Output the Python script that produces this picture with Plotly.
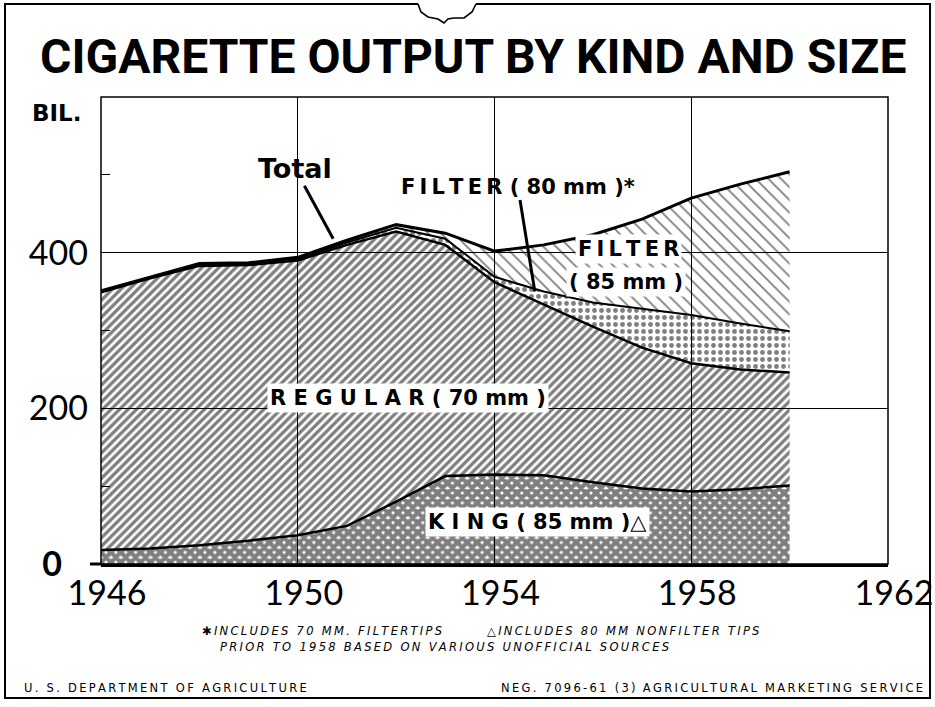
import plotly.graph_objects as go

# ---- data (billions of cigarettes) ----
years = list(range(1946, 1961))
king = [18, 20, 24, 30, 37, 49, 80, 113, 115, 114, 105, 97, 93, 96, 101]
regular = [331, 347, 359, 354, 353, 361, 347, 297, 247, 219, 200, 181, 165, 154, 145]
filter80 = [1, 1, 1, 1, 2, 3, 5, 8, 7, 17, 31, 50, 62, 59, 53]
filter85 = [1, 1, 2, 2, 2, 3, 4, 7, 33, 60, 87, 115, 150, 179, 205]

x_tickvals = [1946, 1950, 1954, 1958, 1962]
x_ticktext = ["1946", "1950", "1954", "1958", "1962"]
y_tickvals = [0, 200, 400]
y_ticktext = ["<b>0</b>\u00a0\u00a0\u00a0", "200", "400"]

# ---- geometry helpers (page pixels -> paper) ----
W, H = 935, 707
L, R, T, B = 101, 888, 97, 564


def px(x):
    return (x - L) / (R - L)


def py(y):
    return (B - y) / (B - T)


CLEAR = "rgba(255,255,255,0)"

fig = go.Figure()

layers = [
    ("KING", king, "x", 7, 0.85, 2.5),
    ("REGULAR", regular, "/", 6, 0.55, 2.5),
    ("FILTER 80", filter80, ".", 7, 0.38, 2.0),
    ("FILTER 85", filter85, "\\", 9, 0.2, 3.0),
]
for name, vals, shape, size, sol, lw in layers:
    fig.add_trace(go.Scatter(
        x=years, y=vals, name=name, stackgroup="one", mode="lines",
        line=dict(color="black", width=lw),
        fillcolor=CLEAR,
        fillpattern=dict(shape=shape, size=size, solidity=sol,
                         fgcolor="black", bgcolor=CLEAR, fillmode="overlay"),
        hoverinfo="skip", showlegend=False,
    ))

tick_font = dict(family="Lato, DejaVu Sans, sans-serif", size=34, color="black")

fig.update_layout(
    width=W, height=H, autosize=False,
    margin=dict(l=L, r=W - R, t=T, b=H - B, pad=0, autoexpand=False),
    paper_bgcolor="white", plot_bgcolor="white",
    xaxis=dict(
        range=[1946, 1962], tickvals=x_tickvals, ticktext=x_ticktext,
        tickfont=tick_font, ticks="", ticklabelstandoff=-3, ticklabelshift=6,
        showgrid=True, gridcolor="black", automargin=False,
        gridwidth=1, showline=True, linecolor="black", linewidth=3,
        zeroline=False, fixedrange=True,
    ),
    yaxis=dict(
        range=[0, 600], tickvals=y_tickvals, ticktext=y_ticktext,
        tickfont=tick_font, ticks="", ticklabelstandoff=12, automargin=False,
        showgrid=True, gridcolor="black", gridwidth=1.3,
        showline=False, zeroline=False, fixedrange=True,
        minor=dict(tickvals=[100, 300, 500], ticks="inside", ticklen=9,
                   tickcolor="black", tickwidth=1.3, showgrid=False),
    ),
    yaxis2=dict(
        range=[0, 600], overlaying="y", side="right", showgrid=False,
        showticklabels=False, ticks="", zeroline=False, fixedrange=True,
        automargin=False,
        minor=dict(tickvals=[100, 300, 500], ticks="inside", ticklen=9,
                   tickcolor="black", tickwidth=1.3, showgrid=False),
    ),
)

shapes = []
# plot frame
shapes.append(dict(type="rect", xref="paper", yref="paper", x0=0, x1=1, y0=0, y1=1,
                   line=dict(color="black", width=1.5), layer="above"))
# baseline stub poking out left of the frame
shapes.append(dict(type="line", xref="paper", yref="paper", x0=px(90), x1=0, y0=0, y1=0,
                   line=dict(color="black", width=3), layer="above"))


def path_px(points):
    s = ""
    for i, (a, b) in enumerate(points):
        s += ("M" if i == 0 else "L") + f" {px(a):.5f},{py(b):.5f} "
    return s


# outer sheet border with the little tab at the top
outer = [(418, 4), (5, 4), (5, 698), (930, 698), (930, 4), (476, 4)]
shapes.append(dict(type="path", xref="paper", yref="paper", path=path_px(outer),
                   line=dict(color="black", width=2), layer="above"))
tab = [(418, 4), (421, 12), (428, 17), (438, 19), (444, 23), (448, 19),
       (454, 18), (464, 18), (472, 12), (476, 4)]
shapes.append(dict(type="path", xref="paper", yref="paper", path=path_px(tab),
                   line=dict(color="black", width=1.6), layer="above"))
fig.update_layout(shapes=shapes)

label_font = dict(family="DejaVu Sans, sans-serif", size=21, color="black")
ann = []
TS = "\u2009"  # thin space for letter spacing


def add_text(text, x, y, size=21, bg=None, xanchor="center", font=None, **kw):
    f = dict(label_font if font is None else font)
    f["size"] = size
    d = dict(text=text, xref="paper", yref="paper", x=px(x), y=py(y),
             xanchor=xanchor, yanchor="middle", showarrow=False, font=f)
    if bg:
        d["bgcolor"] = bg
        d["borderpad"] = 2
    d.update(kw)
    ann.append(d)


def spaced(word, sep=TS):
    return sep.join(word)


# title
add_text("<b>CIGARETTE OUTPUT BY KIND AND SIZE</b>", 473, 56, size=48,
         font=dict(family="Roboto, DejaVu Sans, sans-serif", color="black"))
add_text("<b>BIL.</b>", 30, 113, size=23, xanchor="left")

# series labels
add_text("<b>" + spaced("REGULAR", " ") + " ( 70 mm )</b>", 408, 398, size=21, bg="white")
add_text("<b>" + spaced("KING", " ") + " ( 85 mm )△</b>", 537, 522, size=21, bg="white")
add_text("<b>" + spaced("FILTER") + "</b>", 628, 249, size=21, bg="white")
add_text("<b>( 85 mm )</b>", 626, 282, size=21, bg="white")

# pointer labels (arrow heads positioned on data coordinates)
ann.append(dict(text="<b>Total</b>", x=1950.72, y=418, xref="x", yref="y",
                ax=-38, ay=-70, showarrow=True, arrowhead=0, arrowwidth=3,
                arrowcolor="black", standoff=0,
                font=dict(family="DejaVu Sans, sans-serif", size=27, color="black")))
ann.append(dict(text="<b>" + spaced("FILTER") + " ( 80 mm )*</b>", x=1954.82, y=350,
                xref="x", yref="y", ax=-17, ay=-105, showarrow=True, arrowhead=0,
                arrowwidth=3, arrowcolor="black", standoff=0,
                font=dict(family="DejaVu Sans, sans-serif", size=21, color="black")))

# footnotes
foot = dict(family="DejaVu Sans, sans-serif", color="black")
FS = 11.5
add_text("<i>✱" + TS + spaced("INCLUDES 70 MM. FILTERTIPS") + "</i>", 200, 631,
         size=FS, font=foot, xanchor="left")
add_text("<i>△" + TS + spaced("INCLUDES 80 MM NONFILTER TIPS") + "</i>", 485, 631,
         size=FS, font=foot, xanchor="left")
add_text("<i>" + spaced("PRIOR TO 1958 BASED ON VARIOUS UNOFFICIAL SOURCES") + "</i>",
         218, 647, size=FS, font=foot, xanchor="left")
add_text(spaced("U. S. DEPARTMENT OF AGRICULTURE"), 22, 688, size=FS,
         xanchor="left", font=foot)
add_text(spaced("NEG. 7096-61 (3)") + "  " + spaced("AGRICULTURAL MARKETING SERVICE"),
         925, 688, size=FS, xanchor="right", font=foot)

fig.update_layout(annotations=ann)

fig.write_html("out.html", config={"displayModeBar": False},
               post_script="document.body.style.margin='0';")
